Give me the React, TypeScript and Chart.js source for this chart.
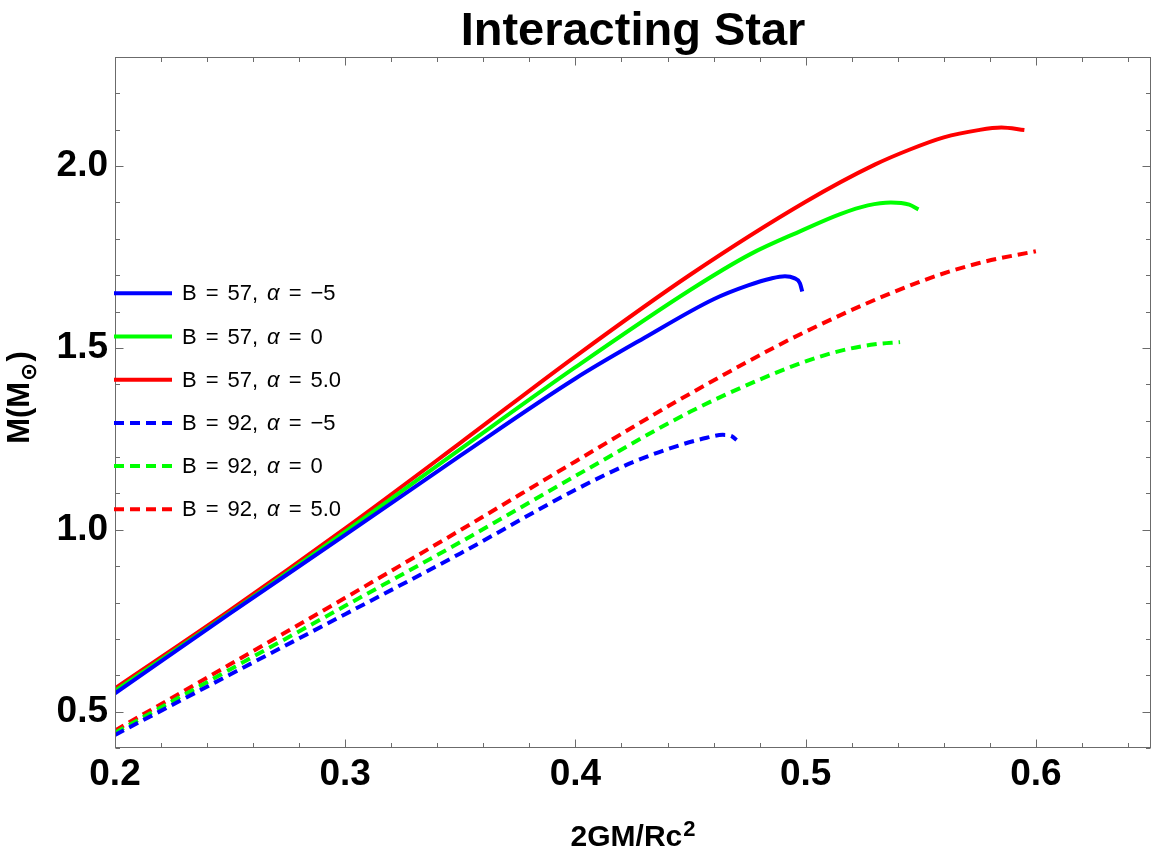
import React, { useEffect, useRef } from 'react';
import { Chart, registerables } from 'chart.js';

Chart.register(...registerables);

const FONT = "'Liberation Sans', 'DejaVu Sans', Arial, sans-serif";

// B = 57 (solid)
const xB57Am5 = [0.2, 0.25, 0.3, 0.35, 0.4, 0.43, 0.46, 0.475, 0.485, 0.491, 0.495, 0.4975, 0.4985];
const yB57Am5 = [0.55, 0.77, 0.986, 1.204, 1.416, 1.528, 1.634, 1.672, 1.691, 1.697, 1.692, 1.678, 1.655];

const xB57A0 = [0.2, 0.25, 0.3, 0.35, 0.4, 0.45, 0.476, 0.498, 0.515, 0.527, 0.537, 0.545, 0.549];
const yB57A0 = [0.557, 0.772, 0.995, 1.222, 1.447, 1.66, 1.758, 1.822, 1.868, 1.892, 1.9, 1.894, 1.881];

const xB57A5 = [0.2, 0.25, 0.3, 0.35, 0.4, 0.45, 0.5, 0.53, 0.545, 0.56, 0.575, 0.585, 0.595];
const yB57A5 = [0.564, 0.779, 1.004, 1.239, 1.477, 1.702, 1.902, 2.004, 2.045, 2.079, 2.099, 2.106, 2.099];

// B = 92 (dashed)
const xB92Am5 = [0.2, 0.25, 0.3, 0.35, 0.4, 0.425, 0.445, 0.457, 0.464, 0.468, 0.47];
const yB92Am5 = [0.436, 0.602, 0.768, 0.935, 1.11, 1.186, 1.232, 1.253, 1.261, 1.257, 1.247];

const xB92A0 = [0.2, 0.25, 0.3, 0.35, 0.4, 0.45, 0.48, 0.5, 0.515, 0.53, 0.541];
const yB92A0 = [0.442, 0.616, 0.791, 0.966, 1.148, 1.325, 1.413, 1.463, 1.492, 1.51, 1.516];

const xB92A5 = [0.2, 0.25, 0.3, 0.35, 0.4, 0.45, 0.5, 0.55, 0.575, 0.6];
const yB92A5 = [0.448, 0.63, 0.813, 0.999, 1.188, 1.375, 1.545, 1.683, 1.733, 1.766];

const xTickValues = [0.2, 0.3, 0.4, 0.5, 0.6];
const yTickValues = [0.5, 1.0, 1.5, 2.0];

const series = [
  { label: 'B = 57, α = −5', xs: xB57Am5, ys: yB57Am5, color: '#0000ff', dash: [] },
  { label: 'B = 57, α = 0', xs: xB57A0, ys: yB57A0, color: '#00ff00', dash: [] },
  { label: 'B = 57, α = 5.0', xs: xB57A5, ys: yB57A5, color: '#ff0000', dash: [] },
  { label: 'B = 92, α = −5', xs: xB92Am5, ys: yB92Am5, color: '#0000ff', dash: [10, 6] },
  { label: 'B = 92, α = 0', xs: xB92A0, ys: yB92A0, color: '#00ff00', dash: [10, 6] },
  { label: 'B = 92, α = 5.0', xs: xB92A5, ys: yB92A5, color: '#ff0000', dash: [10, 6] },
];

// frame with inward ticks, title, axis labels and legend, Mathematica style
const framePlugin = {
  id: 'mmaFrame',
  afterDatasetsDraw(chart) {
    const { ctx, chartArea: a, scales } = chart;
    const xs = scales.x;
    const ys = scales.y;
    const L = Math.round(a.left) + 0.5;
    const R = Math.round(a.right) - 0.5;
    const T = Math.round(a.top) + 0.5;
    const B = Math.round(a.bottom) - 0.5;

    ctx.save();
    ctx.strokeStyle = '#6b6b6b';
    ctx.lineWidth = 1;
    ctx.setLineDash([]);
    ctx.strokeRect(L, T, R - L, B - T);
    ctx.beginPath();
    for (let i = 10; i <= 32; i++) {
      const px = Math.round(xs.getPixelForValue(i / 50)) + 0.5;
      const len = i % 5 === 0 ? 8 : 4.5;
      ctx.moveTo(px, B);
      ctx.lineTo(px, B - len);
      ctx.moveTo(px, T);
      ctx.lineTo(px, T + len);
    }
    for (let i = 4; i <= 23; i++) {
      const py = Math.round(ys.getPixelForValue(i / 10)) + 0.5;
      const len = i % 5 === 0 ? 8 : 4.5;
      ctx.moveTo(L, py);
      ctx.lineTo(L + len, py);
      ctx.moveTo(R, py);
      ctx.lineTo(R - len, py);
    }
    ctx.stroke();
    ctx.restore();
  },
  afterDraw(chart) {
    const { ctx, chartArea: a } = chart;
    const midX = (a.left + a.right) / 2;
    ctx.save();
    ctx.fillStyle = '#000';
    ctx.textBaseline = 'alphabetic';

    // title
    ctx.font = `bold 47px ${FONT}`;
    ctx.textAlign = 'center';
    ctx.fillText('Interacting Star', midX, 45);

    // x axis label 2GM/Rc^2
    ctx.textAlign = 'left';
    const xMain = `bold 30px ${FONT}`;
    const xSup = `bold 22px ${FONT}`;
    ctx.font = xMain;
    const wm = ctx.measureText('2GM/Rc').width;
    ctx.font = xSup;
    const ws = ctx.measureText('2').width;
    const x0 = midX - (wm + ws + 1) / 2;
    ctx.font = xMain;
    ctx.fillText('2GM/Rc', x0, 846);
    ctx.font = xSup;
    ctx.fillText('2', x0 + wm + 1, 836);

    // y axis label M(M⊙)
    ctx.save();
    ctx.translate(17.5, 397.5);
    ctx.rotate(-Math.PI / 2);
    const big = `bold 31px ${FONT}`;
    const small = `bold 22px ${FONT}`;
    ctx.font = big;
    const w1 = ctx.measureText('M(M').width;
    const w3 = ctx.measureText(')').width;
    ctx.font = small;
    const w2 = ctx.measureText('⊙').width;
    let cx = -(w1 + w2 + w3 + 2) / 2;
    ctx.font = big;
    ctx.fillText('M(M', cx, 11);
    cx += w1 + 1;
    ctx.font = small;
    ctx.fillText('⊙', cx, 18);
    cx += w2 + 1;
    ctx.font = big;
    ctx.fillText(')', cx, 11);
    ctx.restore();

    // legend
    chart.data.datasets.forEach((ds, i) => {
      const ly = 293.3 + i * 43.2;
      ctx.save();
      ctx.strokeStyle = ds.borderColor;
      ctx.lineWidth = 4;
      ctx.lineCap = 'butt';
      ctx.setLineDash(ds.borderDash || []);
      ctx.beginPath();
      ctx.moveTo(114, ly);
      ctx.lineTo(172, ly);
      ctx.stroke();
      ctx.restore();

      ctx.textBaseline = 'middle';
      ctx.textAlign = 'left';
      let tx = 182;
      ds.label.split(' ').forEach((tok) => {
        ctx.font = tok === 'α' ? `italic 22px ${FONT}` : `22px ${FONT}`;
        ctx.fillText(tok, tx, ly + 1);
        tx += ctx.measureText(tok).width + 9;
      });
    });
    ctx.restore();
  },
};

const App = () => {
  const chartRef = useRef(null);

  useEffect(() => {
    if (!chartRef.current) return;

    const myChart = new Chart(chartRef.current, {
      type: 'line',
      data: {
        datasets: series.map((s) => ({
          label: s.label,
          data: s.xs.map((x, i) => ({ x, y: s.ys[i] })),
          borderColor: s.color,
          backgroundColor: s.color,
          borderWidth: 4,
          borderDash: s.dash,
          borderCapStyle: 'butt',
          pointRadius: 0,
          fill: false,
          cubicInterpolationMode: 'monotone',
        })),
      },
      options: {
        responsive: false,
        animation: false,
        layout: { padding: { top: 57, left: 0, right: 1, bottom: 0 } },
        plugins: {
          legend: { display: false },
          title: { display: false },
          tooltip: { enabled: false },
        },
        scales: {
          x: {
            type: 'linear',
            min: 0.2,
            max: 0.65,
            grid: { display: false, drawTicks: false },
            border: { display: false },
            ticks: {
              color: '#000',
              font: { family: FONT, size: 37, weight: 'bold' },
              padding: 5,
              maxRotation: 0,
              autoSkip: false,
              callback: (v) => Number(v).toFixed(1),
            },
            afterBuildTicks: (scale) => {
              scale.ticks = xTickValues.map((v) => ({ value: v }));
            },
            afterFit: (scale) => {
              scale.height = 106;
            },
          },
          y: {
            type: 'linear',
            min: 0.4,
            max: 2.3,
            grid: { display: false, drawTicks: false },
            border: { display: false },
            ticks: {
              color: '#000',
              font: { family: FONT, size: 37, weight: 'bold' },
              padding: 7,
              autoSkip: false,
              callback: (v) => Number(v).toFixed(1),
            },
            afterBuildTicks: (scale) => {
              scale.ticks = yTickValues.map((v) => ({ value: v }));
            },
            afterFit: (scale) => {
              scale.width = 115;
            },
          },
        },
      },
      plugins: [framePlugin],
    });

    return () => {
      myChart.destroy();
    };
  }, []);

  return (
    <div style={{ position: 'absolute', left: 0, top: 0, width: 1152, height: 854, background: '#fff' }}>
      <canvas ref={chartRef} width={1152} height={854} style={{ display: 'block' }} />
    </div>
  );
};

export default App;
